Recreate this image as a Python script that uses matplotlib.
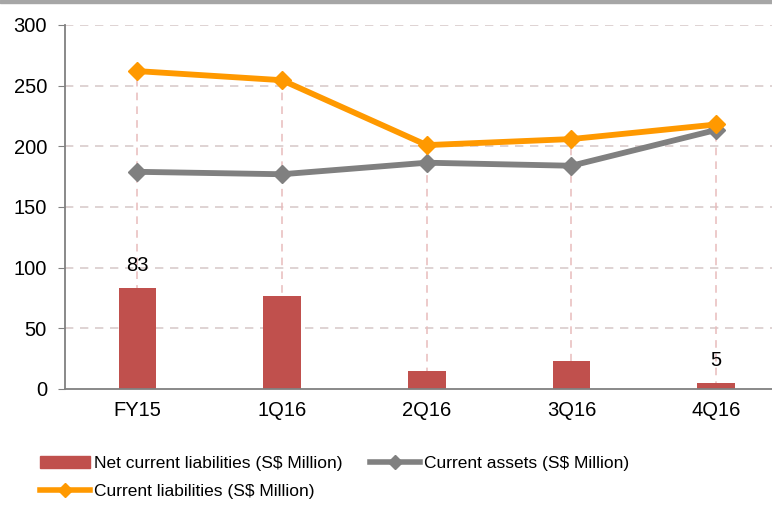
import matplotlib.pyplot as plt
from matplotlib.lines import Line2D
from matplotlib.patches import Patch, Rectangle

# -----------------------------
# Data
# -----------------------------
periods = ["FY15", "1Q16", "2Q16", "3Q16", "4Q16"]
net_current_liabilities = [83, 77, 15, 23, 5]
current_assets = [179, 177, 186.5, 184, 213.5]
current_liabilities = [262, 254.5, 201, 206, 218]
bar_labels = {0: "83", 4: "5"}

plt.rcParams["font.family"] = ["Liberation Sans", "DejaVu Sans"]

fig = plt.figure(figsize=(7.72, 5.07), dpi=100)
ax = fig.add_axes([65 / 772, 1 - 389 / 507, 1 - 65 / 772, 364 / 507])

x = list(range(len(periods)))

# grid + drop lines
for yv in [50, 100, 150, 200, 250, 300]:
    ax.axhline(yv, color="#d9cccc", lw=1.2, ls=(0, (5, 4)), zorder=0)
ax.vlines(x, 0, current_liabilities, color="#e8bcbc", lw=1.1,
          linestyles=(0, (5, 4)), zorder=1)

ax.bar(x, net_current_liabilities, width=0.26, color="#c0504d", zorder=2)
ax.plot(x, current_assets, color="#808080", lw=4.2, marker="D",
        markersize=9, zorder=3)
ax.plot(x, current_liabilities, color="#ff9900", lw=4.2, marker="D",
        markersize=9, zorder=4)

for i, txt in bar_labels.items():
    ax.text(i, net_current_liabilities[i] + 11, txt, ha="center",
            va="bottom", fontsize=14.5)

ax.set_xlim(-0.5, 4.386)
ax.set_ylim(0, 300)
ax.set_yticks([0, 50, 100, 150, 200, 250, 300])
ax.set_xticks(x)
ax.set_xticklabels(periods)
ax.tick_params(axis="x", length=0, labelsize=14.5, pad=9)
ax.tick_params(axis="y", length=5, color="#808080", labelsize=14.5,
               direction="out", pad=8)

for s in ["top", "right"]:
    ax.spines[s].set_visible(False)
ax.spines["left"].set_color("#808080")
ax.spines["bottom"].set_color("#808080")
ax.spines["left"].set_linewidth(1.3)
ax.spines["bottom"].set_linewidth(1.3)

# top grey band
fig.patches.append(Rectangle((0, 1 - 3 / 507), 1, 3 / 507,
                             transform=fig.transFigure, color="#a6a6a6"))

# legend order: column-major, so net + liabilities in col 1, assets in col 2
handles = [
    Patch(color="#c0504d", label="Net current liabilities (S$ Million)"),
    Line2D([], [], color="#ff9900", lw=4, marker="D", markersize=7,
           label="Current liabilities (S$ Million)"),
    Line2D([], [], color="#808080", lw=4, marker="D", markersize=7,
           label="Current assets (S$ Million)"),
]
fig.legend(handles=handles, loc="upper left", bbox_to_anchor=(33 / 772, 1 - 449 / 507),
           ncol=2, frameon=False, fontsize=12.5, handlelength=2.9,
           handletextpad=0.2, columnspacing=1.6, labelspacing=0.75,
           borderaxespad=0)

plt.savefig("out.png", dpi=100)
